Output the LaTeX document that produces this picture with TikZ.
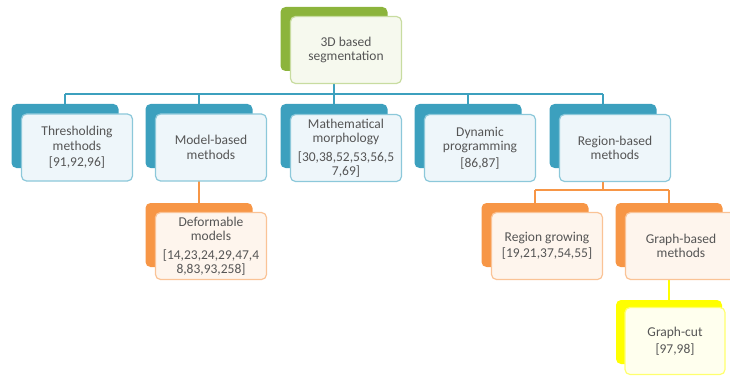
\documentclass[tikz,border=0pt]{standalone}
\usepackage{fontspec}
\setmainfont{Carlito}
\usetikzlibrary{backgrounds}

\definecolor{leaf}{RGB}{140,180,60}
\definecolor{leaflt}{RGB}{200,220,160}
\definecolor{leafbg}{RGB}{246,249,238}
\definecolor{sea}{RGB}{60,160,190}
\definecolor{sealt}{RGB}{140,200,218}
\definecolor{seabg}{RGB}{238,246,250}
\definecolor{amber}{RGB}{247,150,70}
\definecolor{amberlt}{RGB}{250,195,150}
\definecolor{amberbg}{RGB}{254,245,237}
\definecolor{lemon}{RGB}{255,255,0}
\definecolor{lemonlt}{RGB}{255,255,110}
\definecolor{lemonbg}{RGB}{255,255,238}
\definecolor{ink}{RGB}{85,85,85}

\begin{document}
\begin{tikzpicture}[x=1pt, y=-1pt,
  back/.style={rounded corners=5pt, minimum width=107pt, minimum height=64pt},
  front/.style={draw, rounded corners=5pt, line width=1.2pt, minimum width=111pt, minimum height=67pt,
    align=center, text=ink, inner sep=1pt, font=\fontsize{13.5}{14.5}\selectfont},
  link/.style={line width=1.4pt}]
\useasboundingbox (0,0) rectangle (730,377);

\node[back, fill=leaf] (topbk) at (334,39) {};
\node[front, draw=leaflt, fill=leafbg] (top) at (346,50) {3D based\\segmentation};

\node[back, fill=sea] (thrbk) at (65,136) {};
\node[front, draw=sealt, fill=seabg] (thr) at (77,147.5) {Thresholding\\methods\\[2pt][91,92,96]};
\node[back, fill=sea] (modbk) at (199,136) {};
\node[front, draw=sealt, fill=seabg] (mod) at (211,147.5) {Model-based\\methods};
\node[back, fill=sea] (matbk) at (334,136) {};
\node[front, draw=sealt, fill=seabg] (mat) at (346,148) {Mathematical\\morphology\\[4pt][30,38,52,53,56,5\\7,69]};
\node[back, fill=sea] (dynbk) at (468,136) {};
\node[front, draw=sealt, fill=seabg] (dyn) at (480,148) {Dynamic\\programming\\[2pt][86,87]};
\node[back, fill=sea] (regbk) at (603,136) {};
\node[front, draw=sealt, fill=seabg] (reg) at (615,148) {Region-based\\methods};

\node[back, fill=amber] (defbk) at (199,235) {};
\node[front, draw=amberlt, fill=amberbg] (def) at (211,246) {Deformable\\models\\[4pt][14,23,24,29,47,4\\8,83,93,258]};
\node[back, fill=amber] (growbk) at (535,235) {};
\node[front, draw=amberlt, fill=amberbg] (grow) at (547,246) {Region growing\\[2pt][19,21,37,54,55]};
\node[back, fill=amber] (gbmbk) at (669,235) {};
\node[front, draw=amberlt, fill=amberbg] (gbm) at (681,246) {Graph-based\\methods};

\node[back, fill=lemon, minimum width=106pt] (cutbk) at (669,332) {};
\node[front, draw=lemonlt, fill=lemonbg, minimum width=100pt] (cut) at (675,341) {Graph-cut\\[2pt][97,98]};

\coordinate (bus) at (0,94);
\coordinate (bus2) at (0,190);

\begin{scope}[on background layer]
\draw[link, sea] (topbk) -- (topbk |- bus);
\draw[link, sea] (thrbk |- bus) -- (regbk |- bus);
\foreach \n in {thrbk,modbk,matbk,dynbk,regbk}
  \draw[link, sea] (\n |- bus) -- (\n);
\draw[link, amber] (modbk) -- (defbk);
\draw[link, amber] (regbk) -- (regbk |- bus2);
\draw[link, amber] (growbk |- bus2) -- (gbmbk |- bus2);
\foreach \n in {growbk,gbmbk}
  \draw[link, amber] (\n |- bus2) -- (\n);
\draw[link, lemon] (gbmbk) -- (cutbk);
\end{scope}

\end{tikzpicture}
\end{document}
